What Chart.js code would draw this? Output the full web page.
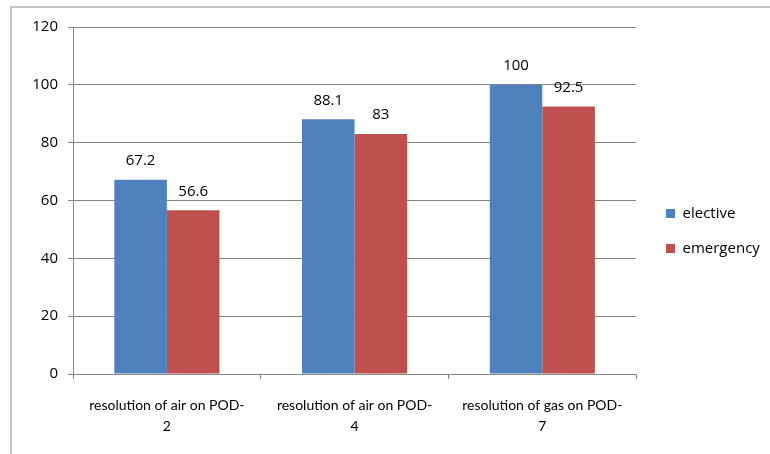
<!DOCTYPE html>
<html>
<head>
<meta charset="utf-8">
<script src="https://cdn.jsdelivr.net/npm/chart.js@4"></script>
<style>
  html, body { margin: 0; padding: 0; background: #fff; }
  #wrap { position: relative; width: 770px; height: 454px; overflow: hidden; }
  #frame { position: absolute; left: 10px; top: 6px; width: 800px; height: 500px;
           border-top: 2px solid #c4c4c4; border-left: 2px solid #c4c4c4; }
  canvas { position: absolute; left: 0; top: 0; }
</style>
</head>
<body>
<div id="wrap">
  <div id="frame"></div>
  <canvas id="myChart" width="770" height="454"></canvas>
</div>
<script>
const categories = [
    ['resolution of air on POD-', '2'],
    ['resolution of air on POD-', '4'],
    ['resolution of gas on POD-', '7']
];
const elective = [67.2, 88.1, 100];
const emergency = [56.6, 83, 92.5];
const yTicks = [0, 20, 40, 60, 80, 100, 120];

const labelFont = 'Lato, sans-serif';
const numFont = '"Open Sans", sans-serif';

// etiquetas de valor em cima das barras
const valueLabels = {
    id: 'valueLabels',
    afterDatasetsDraw(chart) {
        const ctx = chart.ctx;
        ctx.save();
        ctx.font = '15px ' + numFont;
        ctx.fillStyle = '#000';
        ctx.textAlign = 'center';
        ctx.textBaseline = 'middle';
        chart.data.datasets.forEach((ds, i) => {
            chart.getDatasetMeta(i).data.forEach((bar, j) => {
                ctx.fillText(String(ds.data[j]), bar.x, bar.y - 19);
            });
        });
        ctx.restore();
    }
};

// coloca a legenda onde ela fica no original
const legendShift = {
    id: 'legendShift',
    afterLayout(chart) {
        const dx = 646 - chart.legend.left;
        chart.legend.left += dx;
        chart.legend.right += dx;
    }
};

const data = {
    labels: categories,
    datasets: [{
        label: 'elective',
        data: elective,
        backgroundColor: '#4f81bd'
    }, {
        label: 'emergency',
        data: emergency,
        backgroundColor: '#c0504d'
    }]
};

const config = {
    type: 'bar',
    data: data,
    options: {
        responsive: false,
        animation: false,
        categoryPercentage: 0.56,
        barPercentage: 1,
        layout: { padding: { top: 27, bottom: 19, left: 0, right: 10 } },
        plugins: {
            tooltip: { enabled: false },
            legend: {
                position: 'right',
                labels: {
                    boxWidth: 9,
                    boxHeight: 9,
                    padding: 20,
                    color: '#000',
                    font: { family: numFont, size: 15 }
                }
            }
        },
        scales: {
            x: {
                grid: { drawOnChartArea: false, drawTicks: true, tickLength: 5, color: '#868686' },
                border: { color: '#868686' },
                ticks: {
                    color: '#000',
                    padding: 15,
                    maxRotation: 0,
                    autoSkip: false,
                    font: { family: labelFont, size: 14, lineHeight: 1.57 }
                },
                afterFit(scale) { scale.height = 61; }
            },
            y: {
                min: 0,
                max: 120,
                afterBuildTicks(scale) { scale.ticks = yTicks.map(v => ({ value: v })); },
                grid: { color: '#868686', tickLength: 5 },
                border: { color: '#868686' },
                ticks: {
                    color: '#000',
                    padding: 10,
                    font: { family: numFont, size: 15 }
                },
                afterFit(scale) { scale.width = 73; }
            }
        }
    },
    plugins: [valueLabels, legendShift]
};

const ctx = document.getElementById('myChart').getContext('2d');
const myChart = new Chart(ctx, config);
</script>
</body>
</html>
